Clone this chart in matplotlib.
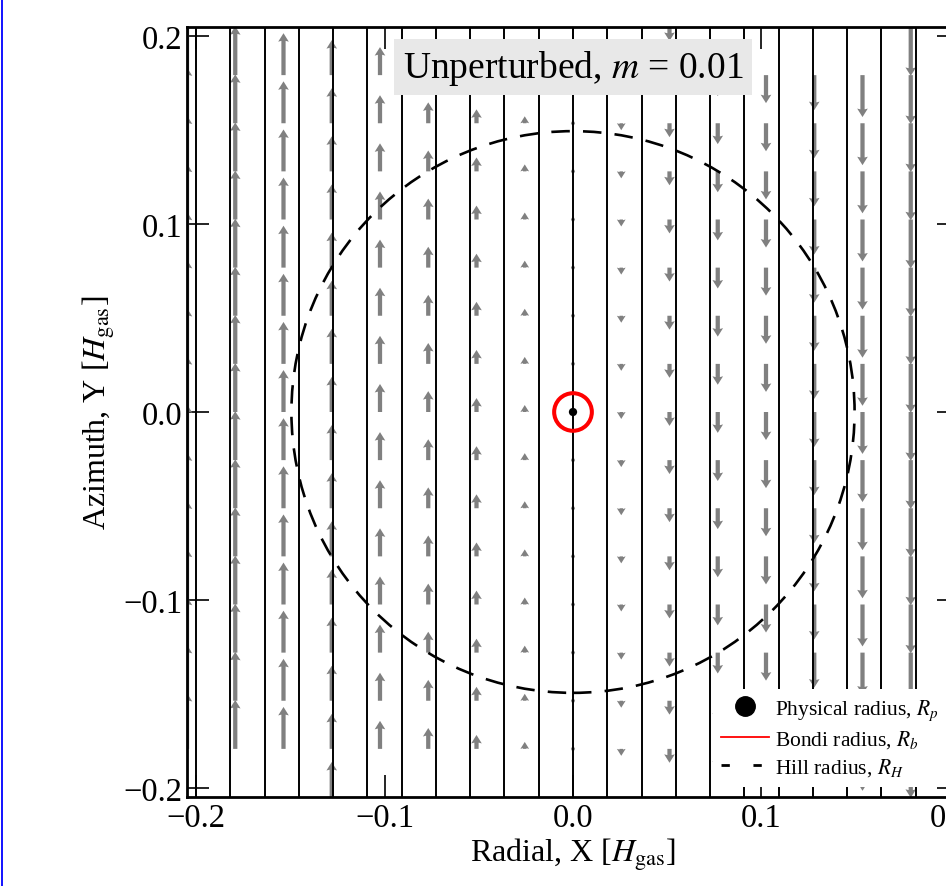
import numpy as np
import matplotlib
matplotlib.use('Agg')
import matplotlib.pyplot as plt
from matplotlib.lines import Line2D
from matplotlib.patches import Circle

plt.rcParams['font.family'] = 'serif'
plt.rcParams['font.serif'] = ['Liberation Serif', 'DejaVu Serif']
plt.rcParams['mathtext.fontset'] = 'stix'

# streamline positions (black vertical lines)
stream_x = [-0.2, -0.1818, -0.1636, -0.1455, -0.1273, -0.1091, -0.0909, -0.0727,
            -0.0545, -0.0364, -0.0182, 0.0, 0.0182, 0.0364, 0.0545, 0.0727,
            0.0909, 0.1091, 0.1273, 0.1455, 0.1636, 0.1818, 0.2]

# quiver grid (gray arrows): columns, rows and arrow length per column
arrow_cols = [-0.2048, -0.1792, -0.1536, -0.128, -0.1024, -0.0768, -0.0512, -0.0256,
              0.0, 0.0256, 0.0512, 0.0768, 0.1024, 0.128, 0.1536, 0.1792, 0.2048]
arrow_rows = [-0.1792, -0.1536, -0.128, -0.1024, -0.0768, -0.0512, -0.0256, 0.0,
              0.0256, 0.0512, 0.0768, 0.1024, 0.128, 0.1536, 0.1792]
arrow_vy = [0.0297, 0.026, 0.0223, 0.0186, 0.0149, 0.0111, 0.0074, 0.0037,
            0.0, -0.0037, -0.0074, -0.0111, -0.0149, -0.0186, -0.0223, -0.026, -0.0297]
# a few edge arrows that show up on the outer rows
extra_x = [-0.128, 0.0512, 0.1792]
extra_y = [-0.2048, 0.2048, 0.2048]
extra_vy = [0.0186, -0.0074, -0.026]

r_phys = 0.0022
r_bondi = 0.01
r_hill = 0.1494
lim = 0.2048

fig = plt.figure(figsize=(9.46, 8.87), dpi=100)
ax = fig.add_axes([187/946, 89/887, 772/946, 770/887])

X, Y = np.meshgrid(arrow_cols, arrow_rows)
V = np.tile(arrow_vy, (len(arrow_rows), 1))
U = np.zeros_like(V)
qx = np.concatenate([X.ravel(), extra_x])
qy = np.concatenate([Y.ravel(), extra_y])
qu = np.concatenate([U.ravel(), np.zeros(len(extra_x))])
qv = np.concatenate([V.ravel(), extra_vy])
ax.quiver(qx, qy, qu, qv, angles='xy', scale_units='xy', scale=1,
          color='#808080', width=0.0055, headwidth=2.5, headlength=2.0,
          headaxislength=1.8, zorder=2)

ax.vlines(stream_x, -lim, lim, colors='black', linewidth=1.4, zorder=3)

ax.add_patch(Circle((0, 0), r_hill, fill=False, edgecolor='black', lw=1.9,
                    linestyle=(0, (7, 5)), zorder=4))
ax.add_patch(Circle((0, 0), r_bondi, fill=False, edgecolor='red', lw=2.9, zorder=4))
ax.add_patch(Circle((0, 0), r_phys, facecolor='black', edgecolor='none', zorder=5))

ax.set_xlim(-lim, lim)
ax.set_ylim(-lim, lim)
ax.set_xticks([-0.2, -0.1, 0.0, 0.1, 0.2])
ax.set_yticks([-0.2, -0.1, 0.0, 0.1, 0.2])
ax.tick_params(direction='in', length=16, width=1.2, top=True, right=True,
               labelsize=23.5, pad=3)
ax.tick_params(axis='x', pad=4)
for s in ax.spines.values():
    s.set_linewidth(2)

ax.set_xlabel(r'Radial, X [$H_{\rm gas}$]', fontsize=23, labelpad=2)
ax.set_ylabel(r'Azimuth, Y [$H_{\rm gas}$]', fontsize=23, labelpad=5)

ax.text(0.5, 0.948, r'Unperturbed, $m$ = 0.01', transform=ax.transAxes,
        ha='center', va='center', fontsize=27, zorder=6,
        bbox=dict(boxstyle='square,pad=0.22', facecolor='#e8e8e8', edgecolor='none'))

handles = [
    Line2D([], [], marker='o', color='black', linestyle='none', markersize=14),
    Line2D([], [], color='red', lw=1.3),
    Line2D([], [], color='black', lw=2, linestyle=(0, (3, 8.5))),
]
labels = [r'Physical radius, $R_p$', r'Bondi radius, $R_b$', r'Hill radius, $R_H$']
leg = ax.legend(handles, labels, loc='lower right', bbox_to_anchor=(0.985, 0.013),
                borderaxespad=0, fontsize=15.5, handlelength=2.2, handletextpad=0.3,
                labelspacing=0.3, frameon=True, facecolor='white', edgecolor='none',
                framealpha=1, fancybox=False)
leg.set_zorder(7)

fig.add_artist(Line2D([1.5/946, 1.5/946], [0, 1], color='blue', lw=1.3,
                      transform=fig.transFigure))

fig.savefig('out.png', dpi=100)
